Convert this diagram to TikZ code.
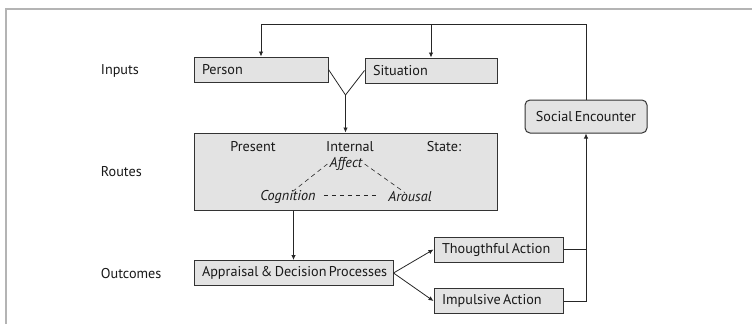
\documentclass[tikz,border=0pt]{standalone}
\usepackage{fontspec}
\setmainfont{PT Sans}
\usetikzlibrary{arrows.meta,positioning}
\definecolor{boxfill}{HTML}{E3E3E3}
\definecolor{boxline}{HTML}{333333}
\definecolor{frameline}{HTML}{B4B4B4}
\begin{document}
\begin{tikzpicture}[x=1pt,y=-1pt,
  every node/.style={font=\fontsize{14.2}{16}\selectfont, text=black!90},
  box/.style={draw=boxline, line width=1pt, fill=boxfill, minimum height=#1, inner xsep=8pt, inner ysep=0pt, align=left},
  box/.default=25pt,
  conn/.style={draw=black!85, line width=0.8pt},
  arr/.style={conn, -{Latex[length=5pt,width=4.5pt]}},
  dsh/.style={draw=black!85, line width=0.6pt, dash pattern=on 4.5pt off 3.5pt},
  lab/.style={anchor=west, inner sep=0pt},
  txt/.style={inner sep=0pt},
  itl/.style={txt, font=\fontsize{14.2}{16}\selectfont\itshape}
]
\useasboundingbox (0,0) rectangle (752,324);
% frame
\draw[frameline, line width=1.6pt] (6,324) -- (6,9) -- (752,9);

% labels
\node[lab] (inputs) at (100.7,70.7) {Inputs};
\node[lab] (routes) at (100.7,172) {Routes};
\node[lab] (outcomes) at (100.7,274) {Outcomes};

% boxes
\node[box, text width=118pt] (person) at (261,69.5) {Person};
\node[box, text width=116pt] (situation) at (431,70.5) {Situation};
\node[box=33pt, rounded corners=5pt, minimum width=122pt, align=center] (social) at (586,116.5) {Social\,Encounter};
\node[draw=boxline, line width=1pt, fill=boxfill, minimum width=303pt, minimum height=77pt, inner sep=0pt] (routesbox) at (345.5,171.5) {};
\node[box, text width=183pt] (appraisal) at (293.5,273) {Appraisal\,\&\,Decision\,Processes};
\node[box, text width=113pt] (thought) at (498.5,249.5) {Thougthful\,Action};
\node[box, text width=113pt] (impulse) at (498.5,301) {Impulsive\,Action};

% routes content
\node[txt] (present) at (253,147) {Present};
\node[txt] (internal) at (350,147) {Internal};
\node[txt] (state) at (444,147) {State:};
\node[itl] (affect) at (346,164) {Affect};
\node[itl] (cognition) at (288,197) {Cognition};
\node[itl] (arousal) at (410,197) {Arousal};
\draw[dsh] ([xshift=-2pt]affect.west) -- ([xshift=5pt,yshift=-1pt]cognition.north);
\draw[dsh] ([xshift=2pt]affect.east) -- ([xshift=-5pt,yshift=-1pt]arousal.north);
\draw[dsh, shorten <=8pt, shorten >=9pt] ([yshift=2pt]cognition.east) -- ([yshift=2pt]cognition.east -| arousal.west);

% Y junction
\coordinate (yj) at (345.5,95);
\draw[conn] (person.east) -- (yj);
\draw[conn] (situation.west) -- (yj);
\draw[arr] (yj) -- (routesbox.north);

% routes to appraisal
\draw[arr] (appraisal.north |- routesbox.south) -- (appraisal.north);

% appraisal to actions
\draw[arr] (appraisal.east) -- (thought.west);
\draw[arr] (appraisal.east) -- (impulse.west);

% actions to social encounter
\draw[conn] (thought.east) -- (thought.east -| social.south);
\draw[arr] (impulse.east) -| (social.south);

% feedback loop
\coordinate (top) at (586,24.7);
\draw[arr] (social.north) -- (top) -| (person.north);
\draw[arr] (situation.north |- top) -- (situation.north);
\end{tikzpicture}
\end{document}
